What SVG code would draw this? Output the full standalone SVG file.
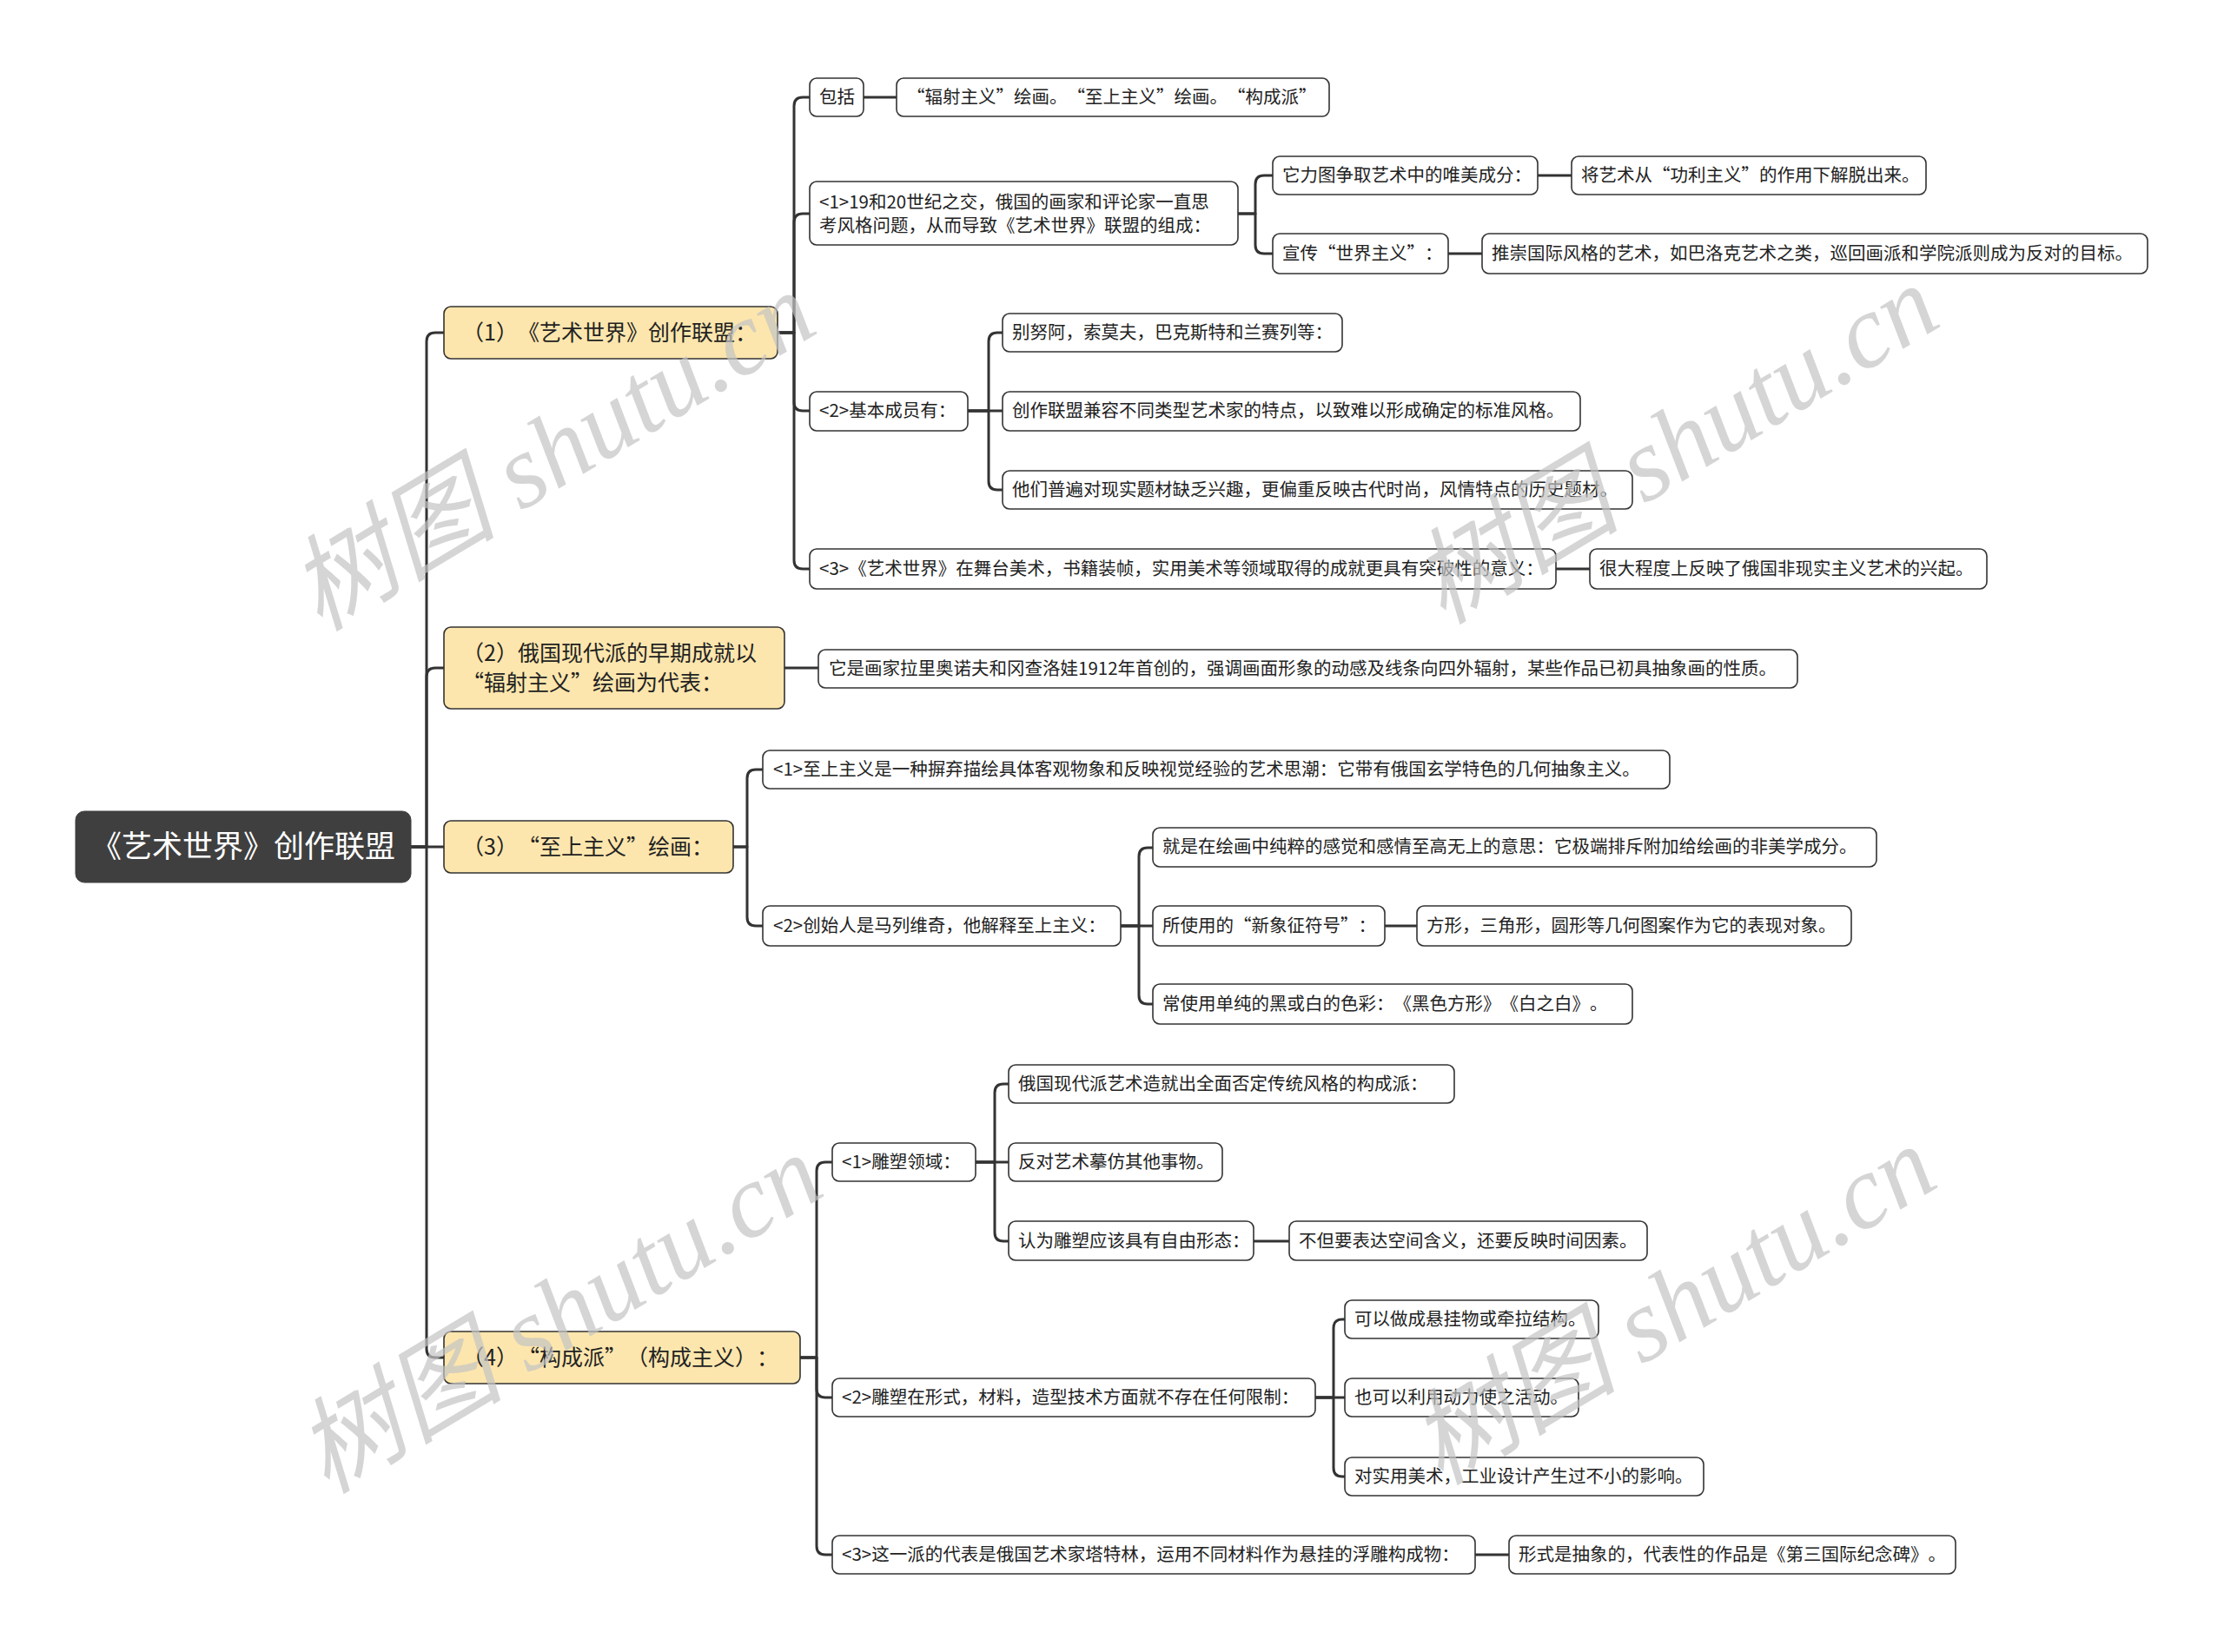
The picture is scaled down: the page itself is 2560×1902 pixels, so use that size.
<svg xmlns="http://www.w3.org/2000/svg" width="2560" height="1902" viewBox="0 0 2560 1902">
<style>
.bg{fill:#ffffff}
.c path{fill:none;stroke:#333333;stroke-width:3;stroke-linejoin:round}
.leaf rect{fill:#ffffff;stroke:#333333;stroke-width:1.6}
.l1 rect{fill:#fde6ad;stroke:#333333;stroke-width:1.6}
.root rect{fill:#3f3f3f;stroke:#3f3f3f}
text{font-family:"Noto Sans CJK SC","Noto Sans",sans-serif;fill:#222222;text-spacing-trim:space-all;font-kerning:none}
.leaf text{font-size:20.5px}
.l1 text{font-size:25px}
.root text{font-size:35px;fill:#ffffff}
.wm{font-family:"Liberation Serif","Noto Sans CJK SC",serif;font-style:italic;font-size:120px;fill:#c4c4c4;opacity:0.7}
</style>
<rect class="bg" x="0" y="0" width="2560" height="1902"/>
<g class="c" id="connectors">
<path d="M473,975 H491 V393 Q491,383 501,383 H511"/>
<path d="M473,975 H491 V779 Q491,769 501,769 H511"/>
<path d="M473,975 H511"/>
<path d="M473,975 H491 V1553 Q491,1563 501,1563 H511"/>
<path d="M895,383 H914 V122 Q914,112 924,112 H932"/>
<path d="M895,383 H914 V256 Q914,246 924,246 H932"/>
<path d="M895,383 H914 V463 Q914,473 924,473 H932"/>
<path d="M895,383 H914 V645 Q914,655 924,655 H932"/>
<path d="M994,112 H1032"/>
<path d="M1425,246 H1445 V212 Q1445,202 1455,202 H1465"/>
<path d="M1425,246 H1445 V282 Q1445,292 1455,292 H1465"/>
<path d="M1770,202 H1809"/>
<path d="M1667,292 H1706"/>
<path d="M1114,473 H1138 V393 Q1138,383 1148,383 H1154"/>
<path d="M1114,473 H1154"/>
<path d="M1114,473 H1138 V554 Q1138,564 1148,564 H1154"/>
<path d="M1791,655 H1830"/>
<path d="M903,769 H942"/>
<path d="M844,975 H860 V896 Q860,886 870,886 H878"/>
<path d="M844,975 H860 V1056 Q860,1066 870,1066 H878"/>
<path d="M1290,1066 H1311 V986 Q1311,976 1321,976 H1327"/>
<path d="M1290,1066 H1327"/>
<path d="M1290,1066 H1311 V1146 Q1311,1156 1321,1156 H1327"/>
<path d="M1594,1066 H1631"/>
<path d="M921,1563 H940 V1348 Q940,1338 950,1338 H958"/>
<path d="M921,1563 H940 V1599 Q940,1609 950,1609 H958"/>
<path d="M921,1563 H940 V1780 Q940,1790 950,1790 H958"/>
<path d="M1123,1338 H1145 V1258 Q1145,1248 1155,1248 H1161"/>
<path d="M1123,1338 H1161"/>
<path d="M1123,1338 H1145 V1419 Q1145,1429 1155,1429 H1161"/>
<path d="M1443,1429 H1484"/>
<path d="M1514,1609 H1535 V1529 Q1535,1519 1545,1519 H1548"/>
<path d="M1514,1609 H1548"/>
<path d="M1514,1609 H1535 V1690 Q1535,1700 1545,1700 H1548"/>
<path d="M1698,1790 H1737"/>
</g>
<g class="root" id="root"><rect x="87" y="934" width="386" height="82" rx="10"/><text x="280" y="987" text-anchor="middle">《艺术世界》创作联盟</text></g>
<g class="l1" id="n1"><rect x="511" y="353" width="384" height="60" rx="8"/><text x="532" y="392">（1）《艺术世界》创作联盟：</text></g>
<g class="l1" id="n2"><rect x="511" y="722" width="392" height="94" rx="8"/><text x="532" y="761">（2）俄国现代派的早期成就以</text><text x="532" y="795">“辐射主义”绘画为代表：</text></g>
<g class="l1" id="n3"><rect x="511" y="945" width="333" height="60" rx="8"/><text x="532" y="984">（3）“至上主义”绘画：</text></g>
<g class="l1" id="n4"><rect x="511" y="1533" width="410" height="60" rx="8"/><text x="532" y="1572">（4）“构成派”（构成主义）：</text></g>
<g class="leaf" id="n1a"><rect x="932" y="90" width="62" height="44" rx="8"/><text x="943" y="119">包括</text></g>
<g class="leaf" id="n1a1"><rect x="1032" y="90" width="498" height="44" rx="8"/><text x="1044" y="119">“辐射主义”绘画。“至上主义”绘画。“构成派”</text></g>
<g class="leaf" id="n1b"><rect x="932" y="209" width="493" height="73" rx="8"/><text x="943" y="240">&lt;1&gt;19和20世纪之交，俄国的画家和评论家一直思</text><text x="943" y="267">考风格问题，从而导致《艺术世界》联盟的组成：</text></g>
<g class="leaf" id="n1b1"><rect x="1465" y="180" width="305" height="44" rx="8"/><text x="1476" y="209">它力图争取艺术中的唯美成分：</text></g>
<g class="leaf" id="n1b1a"><rect x="1809" y="180" width="408" height="44" rx="8"/><text x="1820" y="209">将艺术从“功利主义”的作用下解脱出来。</text></g>
<g class="leaf" id="n1b2"><rect x="1465" y="269" width="202" height="46" rx="8"/><text x="1476" y="299">宣传“世界主义”：</text></g>
<g class="leaf" id="n1b2a"><rect x="1706" y="269" width="766" height="46" rx="8"/><text x="1717" y="299">推崇国际风格的艺术，如巴洛克艺术之类，巡回画派和学院派则成为反对的目标。</text></g>
<g class="leaf" id="n1c"><rect x="932" y="451" width="182" height="45" rx="8"/><text x="943" y="480">&lt;2&gt;基本成员有：</text></g>
<g class="leaf" id="n1c1"><rect x="1154" y="361" width="391" height="44" rx="8"/><text x="1165" y="390">别努阿，索莫夫，巴克斯特和兰赛列等：</text></g>
<g class="leaf" id="n1c2"><rect x="1154" y="451" width="665" height="45" rx="8"/><text x="1165" y="480">创作联盟兼容不同类型艺术家的特点，以致难以形成确定的标准风格。</text></g>
<g class="leaf" id="n1c3"><rect x="1154" y="542" width="725" height="44" rx="8"/><text x="1165" y="571">他们普遍对现实题材缺乏兴趣，更偏重反映古代时尚，风情特点的历史题材。</text></g>
<g class="leaf" id="n1d"><rect x="932" y="632" width="859" height="46" rx="8"/><text x="943" y="662">&lt;3&gt;《艺术世界》在舞台美术，书籍装帧，实用美术等领域取得的成就更具有突破性的意义：</text></g>
<g class="leaf" id="n1d1"><rect x="1830" y="632" width="457" height="46" rx="8"/><text x="1841" y="662">很大程度上反映了俄国非现实主义艺术的兴起。</text></g>
<g class="leaf" id="n2a"><rect x="942" y="748" width="1127" height="44" rx="8"/><text x="954" y="777">它是画家拉里奥诺夫和冈查洛娃1912年首创的，强调画面形象的动感及线条向四外辐射，某些作品已初具抽象画的性质。</text></g>
<g class="leaf" id="n3a"><rect x="878" y="864" width="1044" height="44" rx="8"/><text x="890" y="893">&lt;1&gt;至上主义是一种摒弃描绘具体客观物象和反映视觉经验的艺术思潮：它带有俄国玄学特色的几何抽象主义。</text></g>
<g class="leaf" id="n3b"><rect x="878" y="1043" width="412" height="46" rx="8"/><text x="890" y="1073">&lt;2&gt;创始人是马列维奇，他解释至上主义：</text></g>
<g class="leaf" id="n3b1"><rect x="1327" y="953" width="833" height="45" rx="8"/><text x="1338" y="982">就是在绘画中纯粹的感觉和感情至高无上的意思：它极端排斥附加给绘画的非美学成分。</text></g>
<g class="leaf" id="n3b2"><rect x="1327" y="1043" width="267" height="46" rx="8"/><text x="1338" y="1073">所使用的“新象征符号”：</text></g>
<g class="leaf" id="n3b2a"><rect x="1631" y="1043" width="500" height="46" rx="8"/><text x="1642" y="1073">方形，三角形，圆形等几何图案作为它的表现对象。</text></g>
<g class="leaf" id="n3b3"><rect x="1327" y="1133" width="552" height="46" rx="8"/><text x="1338" y="1163">常使用单纯的黑或白的色彩：《黑色方形》《白之白》。</text></g>
<g class="leaf" id="n4a"><rect x="958" y="1316" width="165" height="44" rx="8"/><text x="969" y="1345">&lt;1&gt;雕塑领域：</text></g>
<g class="leaf" id="n4a1"><rect x="1161" y="1226" width="513" height="44" rx="8"/><text x="1172" y="1255">俄国现代派艺术造就出全面否定传统风格的构成派：</text></g>
<g class="leaf" id="n4a2"><rect x="1161" y="1316" width="246" height="44" rx="8"/><text x="1172" y="1345">反对艺术摹仿其他事物。</text></g>
<g class="leaf" id="n4a3"><rect x="1161" y="1406" width="282" height="45" rx="8"/><text x="1172" y="1436">认为雕塑应该具有自由形态：</text></g>
<g class="leaf" id="n4a3a"><rect x="1484" y="1406" width="412" height="45" rx="8"/><text x="1495" y="1436">不但要表达空间含义，还要反映时间因素。</text></g>
<g class="leaf" id="n4b"><rect x="958" y="1587" width="556" height="44" rx="8"/><text x="969" y="1616">&lt;2&gt;雕塑在形式，材料，造型技术方面就不存在任何限制：</text></g>
<g class="leaf" id="n4b1"><rect x="1548" y="1497" width="292" height="44" rx="8"/><text x="1559" y="1526">可以做成悬挂物或牵拉结构。</text></g>
<g class="leaf" id="n4b2"><rect x="1548" y="1587" width="269" height="44" rx="8"/><text x="1559" y="1616">也可以利用动力使之活动。</text></g>
<g class="leaf" id="n4b3"><rect x="1548" y="1678" width="413" height="44" rx="8"/><text x="1559" y="1707">对实用美术，工业设计产生过不小的影响。</text></g>
<g class="leaf" id="n4c"><rect x="958" y="1768" width="740" height="44" rx="8"/><text x="969" y="1797">&lt;3&gt;这一派的代表是俄国艺术家塔特林，运用不同材料作为悬挂的浮雕构成物：</text></g>
<g class="leaf" id="n4c1"><rect x="1737" y="1768" width="514" height="44" rx="8"/><text x="1748" y="1797">形式是抽象的，代表性的作品是《第三国际纪念碑》。</text></g>
<g id="watermarks">
<text class="wm" x="637" y="560" text-anchor="middle" transform="rotate(-31 637 522)">树图 shutu.cn</text>
<text class="wm" x="1930" y="552" text-anchor="middle" transform="rotate(-31 1930 514)">树图 shutu.cn</text>
<text class="wm" x="645" y="1553" text-anchor="middle" transform="rotate(-31 645 1515)">树图 shutu.cn</text>
<text class="wm" x="1927" y="1543" text-anchor="middle" transform="rotate(-31 1927 1505)">树图 shutu.cn</text>
</g>
</svg>
